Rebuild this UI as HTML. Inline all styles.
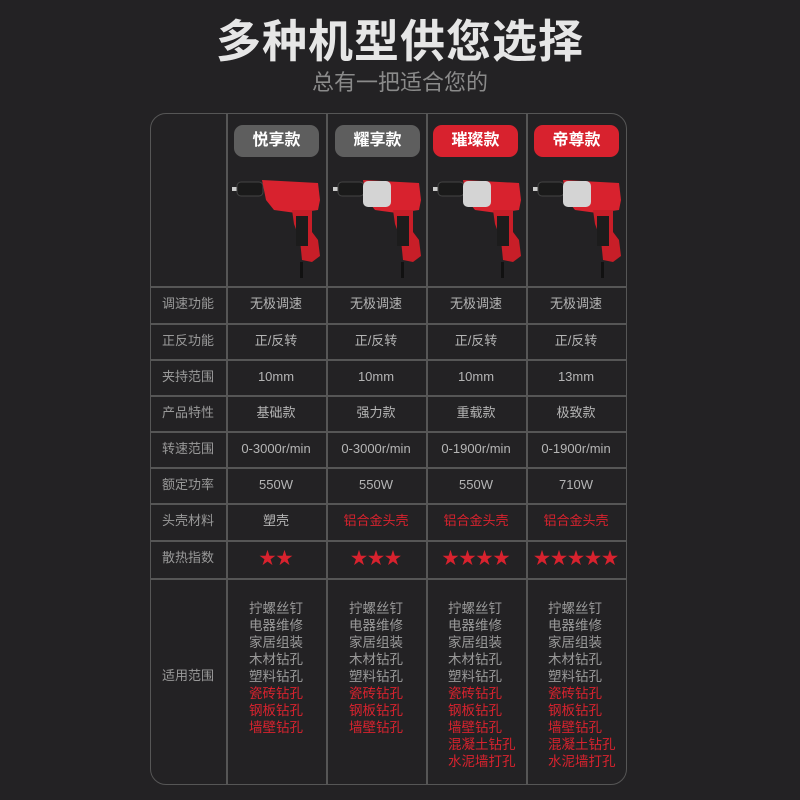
<!DOCTYPE html>
<html><head><meta charset="utf-8"><style>
*{margin:0;padding:0;box-sizing:border-box}
body{width:800px;height:800px;background:#232224;font-family:"Liberation Sans","Noto Sans CJK SC",sans-serif;position:relative;overflow:hidden}
.t{position:absolute;left:0;width:800px;text-align:center}
.tbl{position:absolute;left:150px;top:113px;width:477px;height:672px;border:1.5px solid #565656;border-radius:16px}
.vl{position:absolute;top:113px;height:672px;width:1.5px;background:#565656}
.hl{position:absolute;left:150px;width:477px;height:1.5px;background:#565656}
.c{position:absolute;text-align:center;font-size:13px;color:#b5b5b5;line-height:16px}
.lab{color:#9a9a9a}
.r{color:#d8222e}
.badge{position:absolute;top:125px;width:85px;height:32px;border-radius:9px;color:#fff;font-weight:bold;font-size:16px;text-align:center;line-height:32px}
.list{position:absolute;top:600px;font-size:13.5px;line-height:17px;color:#9a9a9a}
.a{left:226px;width:100px}.b{left:326px;width:100px}.d{left:426px;width:100px}.e{left:526px;width:100px}
</style></head><body>
<div class="t" style="top:14px;font-size:45px;line-height:56px;font-weight:bold;color:#e6e6e6;letter-spacing:1px">多种机型供您选择</div>
<div class="t" style="top:69px;font-size:22px;line-height:28px;color:#8a8a8a">总有一把适合您的</div>
<div class="tbl"></div>
<div class="vl" style="left:226px"></div><div class="vl" style="left:326px"></div><div class="vl" style="left:426px"></div><div class="vl" style="left:526px"></div>
<div class="hl" style="top:286px"></div><div class="hl" style="top:323px"></div><div class="hl" style="top:359px"></div><div class="hl" style="top:395px"></div><div class="hl" style="top:431px"></div><div class="hl" style="top:467px"></div><div class="hl" style="top:503px"></div><div class="hl" style="top:540px"></div><div class="hl" style="top:578px"></div>
<div class="badge" style="left:234px;background:#5e5e5e">悦享款</div>
<div class="badge" style="left:335px;background:#5e5e5e">耀享款</div>
<div class="badge" style="left:433px;background:#d8222e">璀璨款</div>
<div class="badge" style="left:534px;background:#d8222e">帝尊款</div>
<svg width="800" height="800" style="position:absolute;left:0;top:0">
<defs><g id="d">
<rect x="0" y="7" width="5" height="4" fill="#ccc"/>
<rect x="5" y="2" width="26" height="14" rx="4" fill="#1a1a1a" stroke="#444"/>
<path d="M30 0 L86 3 L88 20 L86 30 L64 33 L42 30 L34 20 Z" fill="#d8222e"/>
<path d="M60 30 L80 30 L80 52 L86 60 L88 76 L80 82 L70 80 L68 60 L62 44 Z" fill="#c81e28"/>
<rect x="64" y="36" width="12" height="30" fill="#1c1c1c"/>
<rect x="68" y="82" width="3" height="16" fill="#111"/>
</g>
<g id="s"><rect x="30" y="1" width="28" height="26" rx="5" fill="#d4d4d4"/></g></defs>
<use href="#d" x="232" y="180"/>
<use href="#d" x="333" y="180"/><use href="#s" x="333" y="180"/>
<use href="#d" x="433" y="180"/><use href="#s" x="433" y="180"/>
<use href="#d" x="533" y="180"/><use href="#s" x="533" y="180"/>
</svg>
<div class="c lab" style="left:150px;width:76px;top:296px">调速功能</div>
<div class="c lab" style="left:150px;width:76px;top:333px">正反功能</div>
<div class="c lab" style="left:150px;width:76px;top:369px">夹持范围</div>
<div class="c lab" style="left:150px;width:76px;top:405px">产品特性</div>
<div class="c lab" style="left:150px;width:76px;top:441px">转速范围</div>
<div class="c lab" style="left:150px;width:76px;top:477px">额定功率</div>
<div class="c lab" style="left:150px;width:76px;top:513px">头壳材料</div>
<div class="c lab" style="left:150px;width:76px;top:550px">散热指数</div>
<div class="c lab" style="left:150px;width:76px;top:668px">适用范围</div>

<div class="c a" style="top:296px">无极调速</div><div class="c b" style="top:296px">无极调速</div><div class="c d" style="top:296px">无极调速</div><div class="c e" style="top:296px">无极调速</div>
<div class="c a" style="top:333px">正/反转</div><div class="c b" style="top:333px">正/反转</div><div class="c d" style="top:333px">正/反转</div><div class="c e" style="top:333px">正/反转</div>
<div class="c a" style="top:369px">10mm</div><div class="c b" style="top:369px">10mm</div><div class="c d" style="top:369px">10mm</div><div class="c e" style="top:369px">13mm</div>
<div class="c a" style="top:405px">基础款</div><div class="c b" style="top:405px">强力款</div><div class="c d" style="top:405px">重载款</div><div class="c e" style="top:405px">极致款</div>
<div class="c a" style="top:441px">0-3000r/min</div><div class="c b" style="top:441px">0-3000r/min</div><div class="c d" style="top:441px">0-1900r/min</div><div class="c e" style="top:441px">0-1900r/min</div>
<div class="c a" style="top:477px">550W</div><div class="c b" style="top:477px">550W</div><div class="c d" style="top:477px">550W</div><div class="c e" style="top:477px">710W</div>
<div class="c a" style="top:513px">塑壳</div>
<div class="c r b" style="top:513px">铝合金头壳</div>
<div class="c r d" style="top:513px">铝合金头壳</div>
<div class="c r e" style="top:513px">铝合金头壳</div>
<div class="c r a" style="top:551px;font-size:17px">★★</div>
<div class="c r b" style="top:551px;font-size:17px">★★★</div>
<div class="c r d" style="top:551px;font-size:17px">★★★★</div>
<div class="c r e" style="top:551px;font-size:17px">★★★★★</div>
<div class="list" style="left:249px">拧螺丝钉<br>电器维修<br>家居组装<br>木材钻孔<br>塑料钻孔<br><span class="r">瓷砖钻孔<br>钢板钻孔<br>墙壁钻孔</span></div>
<div class="list" style="left:349px">拧螺丝钉<br>电器维修<br>家居组装<br>木材钻孔<br>塑料钻孔<br><span class="r">瓷砖钻孔<br>钢板钻孔<br>墙壁钻孔</span></div>
<div class="list" style="left:448px">拧螺丝钉<br>电器维修<br>家居组装<br>木材钻孔<br>塑料钻孔<br><span class="r">瓷砖钻孔<br>钢板钻孔<br>墙壁钻孔<br>混凝土钻孔<br>水泥墙打孔</span></div>
<div class="list" style="left:548px">拧螺丝钉<br>电器维修<br>家居组装<br>木材钻孔<br>塑料钻孔<br><span class="r">瓷砖钻孔<br>钢板钻孔<br>墙壁钻孔<br>混凝土钻孔<br>水泥墙打孔</span></div>
</body></html>
